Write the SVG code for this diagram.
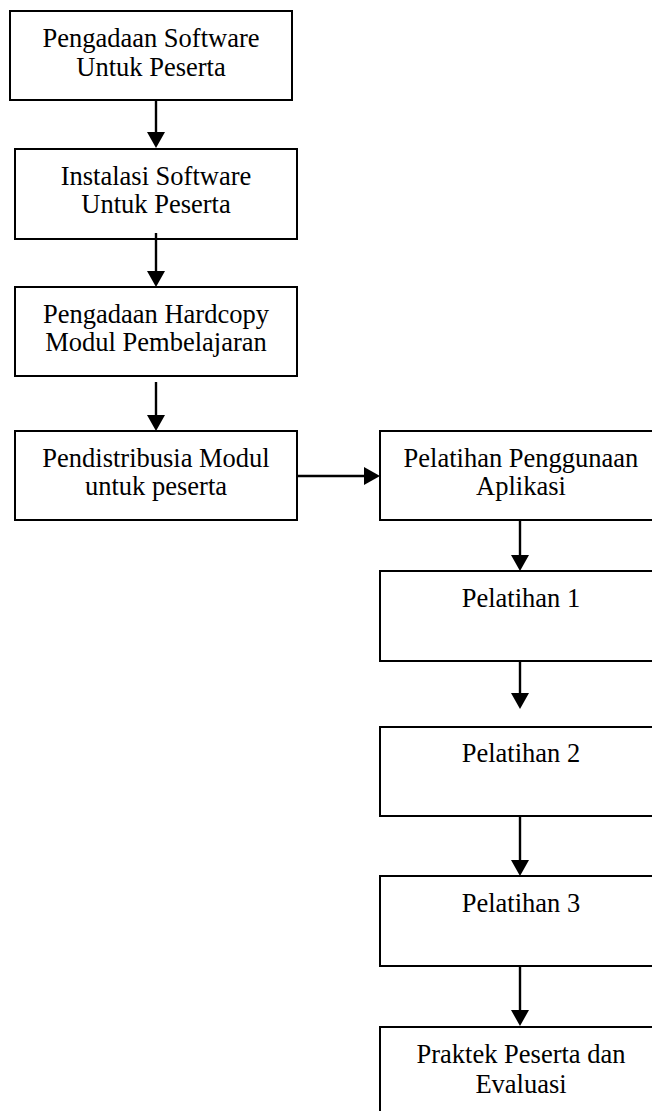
<svg xmlns="http://www.w3.org/2000/svg" width="652" height="1111" viewBox="0 0 652 1111">
<defs>
<style>
.box{fill:#fff;stroke:#000;stroke-width:2}
.t{font-family:"Liberation Serif","Times New Roman",serif;font-size:26.5px;fill:#000;text-anchor:middle}
.c{stroke:#000;stroke-width:2.4;fill:none;marker-end:url(#ah)}
</style>
<marker id="ah" markerUnits="userSpaceOnUse" viewBox="0 0 16 18" markerWidth="16" markerHeight="18" refX="12" refY="9" orient="auto">
<path d="M0,0 L16,9 L0,18 Z" fill="#000"/>
</marker>
</defs>
<rect width="652" height="1111" fill="#fff"/>
<g id="n1"><rect class="box" x="10" y="11" width="282" height="89"/><text class="t" x="151" y="47">Pengadaan Software</text><text class="t" x="151" y="76">Untuk Peserta</text></g>
<g id="n2"><rect class="box" x="15" y="149" width="282" height="90"/><text class="t" x="156" y="185">Instalasi Software</text><text class="t" x="156" y="213">Untuk Peserta</text></g>
<g id="n3"><rect class="box" x="15" y="287" width="282" height="89"/><text class="t" x="156" y="323">Pengadaan Hardcopy</text><text class="t" x="156" y="351">Modul Pembelajaran</text></g>
<g id="n4"><rect class="box" x="15" y="431" width="282" height="89"/><text class="t" x="156" y="467">Pendistribusia Modul</text><text class="t" x="156" y="495">untuk peserta</text></g>
<g id="n5"><rect class="box" x="380" y="431" width="282" height="89"/><text class="t" x="521" y="467">Pelatihan Penggunaan</text><text class="t" x="521" y="495">Aplikasi</text></g>
<g id="n6"><rect class="box" x="380" y="571" width="282" height="90"/><text class="t" x="521" y="607">Pelatihan 1</text></g>
<g id="n7"><rect class="box" x="380" y="727" width="282" height="89"/><text class="t" x="521" y="762">Pelatihan 2</text></g>
<g id="n8"><rect class="box" x="380" y="876" width="282" height="90"/><text class="t" x="521" y="912">Pelatihan 3</text></g>
<g id="n9"><rect class="box" x="380" y="1027" width="282" height="100"/><text class="t" x="521" y="1063">Praktek Peserta dan</text><text class="t" x="521" y="1093">Evaluasi</text></g>
<g id="connectors">
<line class="c" x1="156" y1="100" x2="156" y2="144"/>
<line class="c" x1="156" y1="233" x2="156" y2="283"/>
<line class="c" x1="156" y1="382" x2="156" y2="427"/>
<line class="c" x1="297" y1="476" x2="376" y2="476"/>
<line class="c" x1="520" y1="520" x2="520" y2="567"/>
<line class="c" x1="520" y1="661" x2="520" y2="705"/>
<line class="c" x1="520" y1="816" x2="520" y2="872"/>
<line class="c" x1="520" y1="966" x2="520" y2="1022"/>
</g>
</svg>
